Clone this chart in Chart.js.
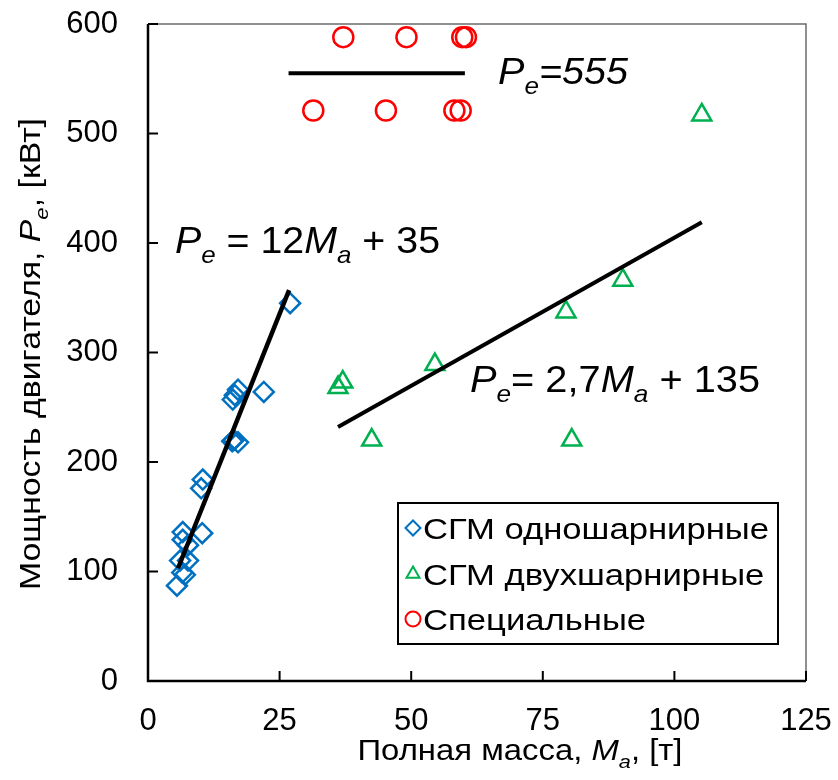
<!DOCTYPE html>
<html>
<head>
<meta charset="utf-8">
<script src="https://cdn.jsdelivr.net/npm/chart.js@4.4.1/dist/chart.umd.min.js"></script>
<style>
  html, body { margin: 0; padding: 0; background: #fff; }
</style>
</head>
<body>
<canvas id="massPowerChart" width="838" height="780"></canvas>
<script>
// --- data ---
const singleX = [27.0, 22.0, 17.1, 16.5, 16.1, 16.3, 17.1, 16.0, 10.4, 10.1, 10.3, 6.6, 6.6, 7.6, 6.1, 7.6, 6.5, 7.0, 5.5];
const singleY = [345, 264, 266, 261, 257, 220, 218, 219, 184, 176, 135, 136, 129, 124, 110, 110, 99, 97, 87];

const doubleX = [105.2, 90.2, 79.4, 54.5, 37.0, 36.1, 42.5, 80.5];
const doubleY = [517, 366, 337, 289, 273, 268, 220, 220];

const specialX = [37.1, 49.1, 59.7, 60.4, 31.4, 45.2, 58.2, 59.4];
const specialY = [588, 588, 588, 588, 521, 521, 521, 521];

const trendSingleX = [5.7, 26.8];
const trendSingleY = [103, 357];
const trendDoubleX = [36.1, 105.2];
const trendDoubleY = [232, 419];
const trendSpecialX = [26.7, 60.2];
const trendSpecialY = [555, 555];

const xTicks = [0, 25, 50, 75, 100, 125];
const yTicks = [0, 100, 200, 300, 400, 500, 600];

const seriesLabels = ['СГМ одношарнирные', 'СГМ двухшарнирные', 'Специальные'];

const FONT = 'Arial, "Liberation Sans", sans-serif';

function pts(xs, ys) {
    return xs.map(function (x, i) { return { x: x, y: ys[i] }; });
}

function runsWidth(ctx, runs, size) {
    return runs.reduce(function (sum, r) {
        const px = r.s ? size * 0.66 : size;
        ctx.font = (r.i ? 'italic ' : '') + px + 'px ' + FONT;
        return sum + ctx.measureText(r.t).width;
    }, 0);
}

// text built from runs {t, i: italic, s: subscript}; stretched to a given length
function drawRuns(ctx, runs, x, y, size, align, len) {
    const total = runsWidth(ctx, runs, size);
    const sx = len ? len / total : 1;
    ctx.save();
    ctx.translate(x, y);
    ctx.scale(sx, 1);
    let cx = align === 'center' ? -total / 2 : 0;
    ctx.textBaseline = 'alphabetic';
    ctx.textAlign = 'left';
    ctx.fillStyle = '#000';
    runs.forEach(function (r) {
        const px = r.s ? size * 0.66 : size;
        ctx.font = (r.i ? 'italic ' : '') + px + 'px ' + FONT;
        ctx.fillText(r.t, cx, r.s ? size * 0.28 : 0);
        cx += ctx.measureText(r.t).width;
    });
    ctx.restore();
}

const frame = {
    id: 'frame',
    beforeDatasetsDraw(chart) {
        const ctx = chart.ctx, a = chart.chartArea;
        const xs = chart.scales.x, ys = chart.scales.y;
        ctx.save();
        // light top / right border
        ctx.strokeStyle = '#6b6b6b';
        ctx.lineWidth = 1.5;
        ctx.beginPath();
        ctx.moveTo(a.left, a.top);
        ctx.lineTo(a.right, a.top);
        ctx.lineTo(a.right, a.bottom);
        ctx.stroke();
        // axes
        ctx.strokeStyle = '#000';
        ctx.lineWidth = 2.5;
        ctx.beginPath();
        ctx.moveTo(a.left, a.top);
        ctx.lineTo(a.left, a.bottom);
        ctx.lineTo(a.right, a.bottom);
        ctx.stroke();
        // inward tick marks
        ctx.lineWidth = 2;
        ctx.beginPath();
        yTicks.forEach(function (v) {
            const py = ys.getPixelForValue(v);
            ctx.moveTo(a.left, py);
            ctx.lineTo(a.left + 10, py);
        });
        xTicks.forEach(function (v) {
            const px = xs.getPixelForValue(v);
            ctx.moveTo(px, a.bottom);
            ctx.lineTo(px, a.bottom - 10);
        });
        ctx.stroke();
        ctx.restore();
    },
    afterDraw(chart) {
        const ctx = chart.ctx;
        ctx.save();
        // equations
        drawRuns(ctx, [{ t: 'P', i: 1 }, { t: 'e', i: 1, s: 1 }, { t: '=555', i: 1 }], 498, 84, 37, 'left', 130);
        drawRuns(ctx, [{ t: 'P', i: 1 }, { t: 'e', i: 1, s: 1 }, { t: ' = 12' }, { t: 'M', i: 1 }, { t: 'a', i: 1, s: 1 }, { t: ' + 35' }], 175, 253, 37, 'left', 265);
        drawRuns(ctx, [{ t: 'P', i: 1 }, { t: 'e', i: 1, s: 1 }, { t: '= 2,7' }, { t: 'M', i: 1 }, { t: 'a', i: 1, s: 1 }, { t: ' + 135' }], 470, 392, 37, 'left', 290);

        // axis titles
        drawRuns(ctx, [{ t: 'Полная масса, ' }, { t: 'M', i: 1 }, { t: 'a', i: 1, s: 1 }, { t: ', [т]' }], 520, 760, 29, 'center', 325);
        ctx.save();
        ctx.translate(40, 354);
        ctx.rotate(-Math.PI / 2);
        drawRuns(ctx, [{ t: 'Мощность двигателя, ' }, { t: 'P', i: 1 }, { t: 'e', i: 1, s: 1 }, { t: ', [кВт]' }], 0, 0, 29, 'center', 472);
        ctx.restore();

        // legend box
        const bx = 398, by = 503, bw = 380, bh = 141;
        ctx.fillStyle = '#fff';
        ctx.fillRect(bx, by, bw, bh);
        ctx.strokeStyle = '#000';
        ctx.lineWidth = 2;
        ctx.strokeRect(bx, by, bw, bh);
        const rows = [528, 574, 619];
        const ds = chart.data.datasets.filter(function (d) { return d.inLegend; });
        const stretch = 346 / runsWidth(ctx, [{ t: ds[0].label }], 30);
        ds.forEach(function (d, k) {
            ctx.strokeStyle = d.borderColor;
            ctx.fillStyle = 'rgba(0,0,0,0)';
            Chart.helpers.drawPoint(ctx, { pointStyle: d.pointStyle, radius: 7.5, borderWidth: 2.2, rotation: 0 }, 413, rows[k]);
            const w = runsWidth(ctx, [{ t: d.label }], 30);
            drawRuns(ctx, [{ t: d.label }], 423, rows[k] + 11, 30, 'left', w * stretch);
        });
        ctx.restore();
    }
};

new Chart(document.getElementById('massPowerChart'), {
    type: 'scatter',
    data: {
        datasets: [
            { label: 'trend1', data: pts(trendSingleX, trendSingleY), showLine: true, borderColor: '#000', borderWidth: 4.5, pointRadius: 0 },
            { label: 'trend2', data: pts(trendDoubleX, trendDoubleY), showLine: true, borderColor: '#000', borderWidth: 4, pointRadius: 0 },
            { label: 'trend3', data: pts(trendSpecialX, trendSpecialY), showLine: true, borderColor: '#000', borderWidth: 4, pointRadius: 0 },
            {
                label: seriesLabels[0], inLegend: true, data: pts(singleX, singleY),
                pointStyle: 'rectRot', pointRadius: 10, borderColor: '#0070C0', backgroundColor: 'rgba(0,0,0,0)', pointBorderWidth: 2.5
            },
            {
                label: seriesLabels[1], inLegend: true, data: pts(doubleX, doubleY),
                pointStyle: 'triangle', pointRadius: 11, borderColor: '#00B050', backgroundColor: 'rgba(0,0,0,0)', pointBorderWidth: 2.5
            },
            {
                label: seriesLabels[2], inLegend: true, data: pts(specialX, specialY),
                pointStyle: 'circle', pointRadius: 10, borderColor: '#FF0000', backgroundColor: 'rgba(0,0,0,0)', pointBorderWidth: 2.5
            }
        ]
    },
    options: {
        responsive: false,
        animation: false,
        layout: { padding: { top: 24, right: 32, left: 0, bottom: 0 } },
        plugins: { legend: { display: false }, tooltip: { enabled: false } },
        scales: {
            x: {
                min: 0, max: 125,
                afterFit: function (s) { s.height = 99; s.paddingLeft = 0; s.paddingRight = 0; },
                afterBuildTicks: function (s) { s.ticks = xTicks.map(function (v) { return { value: v }; }); },
                grid: { display: false, drawTicks: false },
                border: { display: false },
                ticks: { color: '#000', padding: 22, maxRotation: 0, font: { size: 31, family: FONT } }
            },
            y: {
                min: 0, max: 600,
                afterFit: function (s) { s.width = 148; s.paddingTop = 0; s.paddingBottom = 0; },
                afterBuildTicks: function (s) { s.ticks = yTicks.map(function (v) { return { value: v }; }); },
                grid: { display: false, drawTicks: false },
                border: { display: false },
                ticks: { color: '#000', padding: 30, font: { size: 31, family: FONT } }
            }
        }
    },
    plugins: [frame]
});
</script>
</body>
</html>
